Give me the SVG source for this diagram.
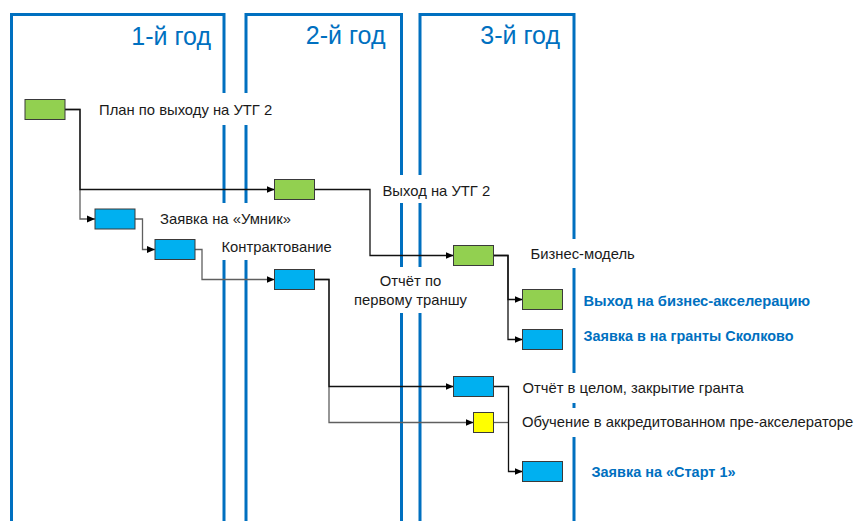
<svg xmlns="http://www.w3.org/2000/svg" width="855" height="521" viewBox="0 0 855 521">
<style>
.frame{fill:none;stroke:#0070C0;stroke-width:3}
.yr{font-family:"Liberation Sans",Arial,sans-serif;font-size:25px;fill:#0070C0;text-anchor:end}
.lbl{font-family:"Liberation Sans",Arial,sans-serif;font-size:14.8px;fill:#1a1a1a}
.blbl{font-family:"Liberation Sans",Arial,sans-serif;font-size:14px;font-weight:bold;fill:#0070C0}
.node{stroke:#3a3a3a;stroke-width:1}
.g{fill:#92D050}.b{fill:#00B0F0}.y{fill:#FFFF00}
.c{fill:none;stroke-width:1.3}
.k{stroke:#111}.gr{stroke:#5f5f5f}
</style>
<defs>
<marker id="arr" viewBox="0 0 8 8" refX="8" refY="4" markerWidth="8" markerHeight="8" markerUnits="userSpaceOnUse" orient="auto">
<path d="M0,0.5 L8,4 L0,7.5 Z" fill="#000"/>
</marker>
</defs>
<g id="frames">
<path class="frame" d="M11.5,521 V14.5 H224 V93 M224,125 V203 M224,260 V521"/>
<path class="frame" d="M246,521 V260 M246,203 V125 M246,93 V14.5 H401.5 V175 M401.5,203 V267 M401.5,313 V521"/>
<path class="frame" d="M420,521 V313 M420,267 V203 M420,175 V14.5 H574 V239 M574,268 V373 M574,403 V408 M574,437 V521"/>
<text class="yr" x="211" y="45">1-й год</text>
<text class="yr" x="385.5" y="44">2-й год</text>
<text class="yr" x="560" y="44">3-й год</text>
</g>
<g id="connectors">
<path class="c gr" d="M65,109.5 H80 V219 H95" marker-end="url(#arr)"/>
<path class="c k" d="M65,109.5 H80 V189.5 H274.5" marker-end="url(#arr)"/>
<path class="c gr" d="M135,219 H142.5 V249.5 H155" marker-end="url(#arr)"/>
<path class="c gr" d="M195,249.5 H202 V279.5 H274.5" marker-end="url(#arr)"/>
<path class="c k" d="M314.5,189.5 H370 V255.5 H453.5" marker-end="url(#arr)"/>
<path class="c gr" d="M314.5,279.5 H329 V422.5 H473.5" marker-end="url(#arr)"/>
<path class="c k" d="M314.5,279.5 H329 V386.5 H453.5" marker-end="url(#arr)"/>
<path class="c k" d="M493.5,255.5 H508 V339.5 H522.5" marker-end="url(#arr)"/>
<path class="c k" d="M493.5,255.5 H508 V299.5 H522.5" marker-end="url(#arr)"/>
<path class="c gr" d="M493.5,422.5 H508.5"/>
<path class="c k" d="M493.5,386.5 H508.5 V471.5 H522.5" marker-end="url(#arr)"/>
</g>
<g id="n-plan"><rect class="node g" x="25" y="99.5" width="40" height="20"/><text class="lbl" x="99" y="115">План по выходу на УТГ 2</text></g>
<g id="n-utg2"><rect class="node g" x="274.5" y="179.5" width="40" height="20"/><text class="lbl" x="382.5" y="196">Выход на УТГ 2</text></g>
<g id="n-umnik"><rect class="node b" x="95" y="209" width="40" height="20"/><text class="lbl" x="160" y="223.5">Заявка на «Умник»</text></g>
<g id="n-contract"><rect class="node b" x="155" y="239.5" width="40" height="20"/><text class="lbl" x="221.5" y="252">Контрактование</text></g>
<g id="n-report1"><rect class="node b" x="274.5" y="269.5" width="40" height="20"/><text class="lbl" x="410.5" y="286" text-anchor="middle">Отчёт по</text><text class="lbl" x="410.5" y="304.5" text-anchor="middle">первому траншу</text></g>
<g id="n-bm"><rect class="node g" x="453.5" y="245.5" width="40" height="20"/><text class="lbl" x="530.5" y="259">Бизнес-модель</text></g>
<g id="n-accel"><rect class="node g" x="522.5" y="289.5" width="40" height="20"/><text class="blbl" x="583.5" y="305.5" textLength="226.5" lengthAdjust="spacingAndGlyphs">Выход на бизнес-акселерацию</text></g>
<g id="n-sk"><rect class="node b" x="522.5" y="329.5" width="40" height="20"/><text class="blbl" x="583.5" y="340.5" textLength="210" lengthAdjust="spacingAndGlyphs">Заявка в на гранты Сколково</text></g>
<g id="n-final"><rect class="node b" x="453.5" y="376.5" width="40" height="20"/><text class="lbl" x="522.5" y="393">Отчёт в целом, закрытие гранта</text></g>
<g id="n-edu"><rect class="node y" x="473.5" y="412.5" width="20" height="20"/><text class="lbl" x="522" y="427">Обучение в аккредитованном пре-акселераторе</text></g>
<g id="n-start"><rect class="node b" x="522.5" y="461.5" width="40" height="20"/><text class="blbl" x="591.5" y="477" textLength="144" lengthAdjust="spacingAndGlyphs">Заявка на «Старт 1»</text></g>
</svg>
